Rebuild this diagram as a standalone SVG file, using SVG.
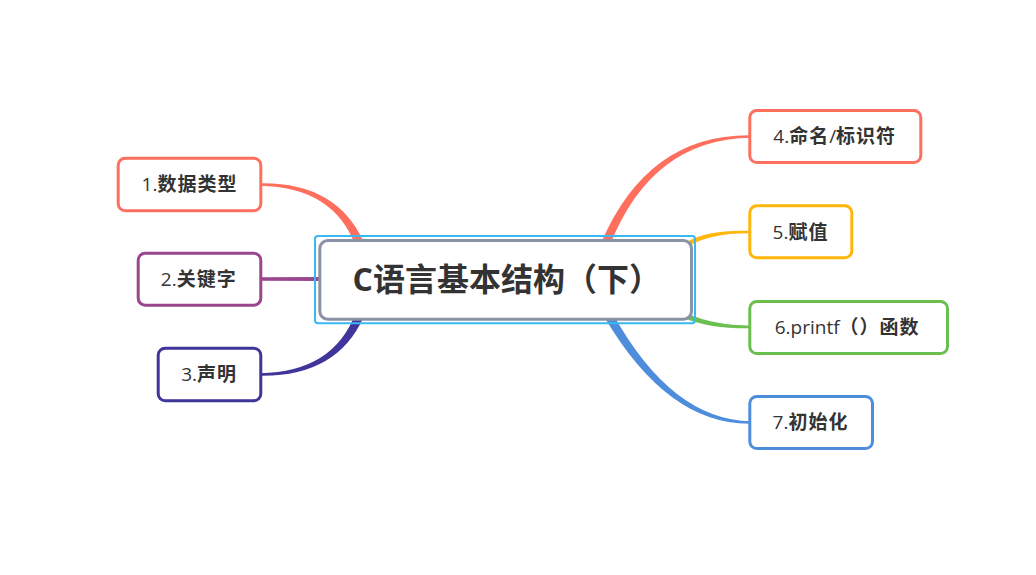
<svg xmlns="http://www.w3.org/2000/svg" width="1036" height="575" viewBox="0 0 1036 575">
  <style>
    .bg { fill: #ffffff; }
    .node rect { fill: #ffffff; stroke-width: 3; }
    .t { font-family: "Open Sans", "Noto Sans CJK SC", sans-serif; font-size: 19px; font-weight: bold; fill: #333333; letter-spacing: 1px; text-anchor: middle; }
    .lat { font-weight: 500; letter-spacing: 0; }
    .title { font-family: "Open Sans", "Noto Sans CJK SC", sans-serif; font-size: 32px; font-weight: bold; fill: #333333; }
    .c-red { fill: #ff6f5e; }
    .s-red { stroke: #ff6f5e; }
    .c-purple { fill: #9a468e; }
    .s-purple { stroke: #9a468e; }
    .c-indigo { fill: #40359a; }
    .s-indigo { stroke: #40359a; }
    .c-orange { fill: #ffb60a; }
    .s-orange { stroke: #ffb60a; }
    .c-green { fill: #6bbf4e; }
    .s-green { stroke: #6bbf4e; }
    .c-blue { fill: #4e8ddb; }
    .s-blue { stroke: #4e8ddb; }
  </style>
  <rect class="bg" x="0" y="0" width="1036" height="575"/>

  <g id="connectors">
    <path class="c-red" d="M260,183.3 Q336.65,182.01 363.66,241.99 L355.34,245.41 Q333.35,186.99 260,185.7 Z"/>
    <path class="c-purple" d="M260,277.3 L322,277 L322,281 L260,280.7 Z"/>
    <path class="c-indigo" d="M260,375.7 Q336.65,376.99 363.66,317.01 L355.34,313.59 Q333.35,372.01 260,373.3 Z"/>
    <path class="c-red" d="M751,135.3 Q648.33,134.01 601.44,242.08 L609.76,245.52 Q651.67,138.99 751,137.7 Z"/>
    <path class="c-orange" d="M751,230.8 Q707.4,229.2 684.6,243 L687.4,247 Q708.6,232.8 751,233.2 Z"/>
    <path class="c-green" d="M751,328.2 Q711.6,328.9 684.9,318.4 L687.1,313.6 Q712.4,325.1 751,325.8 Z"/>
    <path class="c-blue" d="M751,423.7 Q668.5,425.1 605.09,318.24 L612.91,313.76 Q671.5,419.9 751,421.3 Z"/>
  </g>

  <g id="root">
    <rect x="319.8" y="240.5" width="371.7" height="78.7" rx="8" fill="#ffffff" stroke="#8a93a5" stroke-width="3"/>
    <rect x="315" y="236" width="380" height="87.3" rx="3" fill="none" stroke="#3ab8f0" stroke-width="2"/>
    <text class="title" x="352.5" y="291">C语言基本结构（下）</text>
  </g>

  <g id="node1" class="node">
    <rect class="s-red" x="118.2" y="158.2" width="142.6" height="52.6" rx="7"/>
    <text class="t" x="189.5" y="191"><tspan class="lat">1.</tspan>数据类型</text>
  </g>
  <g id="node2" class="node">
    <rect class="s-purple" x="138.2" y="253.2" width="122.6" height="52" rx="7"/>
    <text class="t" x="198.8" y="285.7"><tspan class="lat">2.</tspan>关键字</text>
  </g>
  <g id="node3" class="node">
    <rect class="s-indigo" x="158.2" y="348.2" width="102.6" height="52.6" rx="7"/>
    <text class="t" x="209.2" y="381"><tspan class="lat">3.</tspan>声明</text>
  </g>
  <g id="node4" class="node">
    <rect class="s-red" x="749.8" y="110.5" width="171" height="52" rx="7"/>
    <text class="t" x="834.7" y="143"><tspan class="lat">4.</tspan>命名<tspan class="lat">/</tspan>标识符</text>
  </g>
  <g id="node5" class="node">
    <rect class="s-orange" x="749.8" y="205.8" width="102" height="52" rx="7"/>
    <text class="t" x="800.5" y="238.5"><tspan class="lat">5.</tspan>赋值</text>
  </g>
  <g id="node6" class="node">
    <rect class="s-green" x="749.8" y="301.5" width="197.7" height="52" rx="7"/>
    <text class="t" x="847.2" y="334.3"><tspan class="lat">6.printf</tspan>（）函数</text>
  </g>
  <g id="node7" class="node">
    <rect class="s-blue" x="749.8" y="396.5" width="122.7" height="52" rx="7"/>
    <text class="t" x="810.5" y="429.2"><tspan class="lat">7.</tspan>初始化</text>
  </g>
</svg>
